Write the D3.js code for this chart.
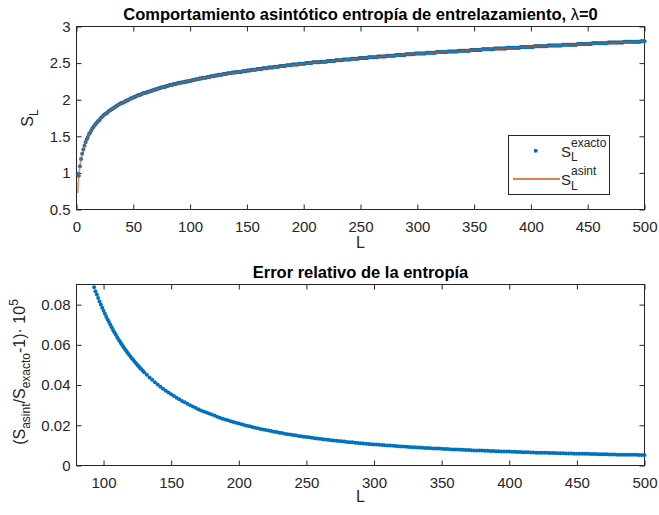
<!DOCTYPE html>
<html>
<head>
<meta charset="utf-8">
<script src="https://cdnjs.cloudflare.com/ajax/libs/d3/7.8.5/d3.min.js"></script>
<style>
body{margin:0;background:#fff;}
svg{display:block;font-family:"Liberation Sans",Arial,Helvetica,sans-serif;}
</style>
</head>
<body>
<svg width="659" height="515"></svg>
<script>
// S_L exacto, one value per L = 1..500
const sExacto = [
0.99, 0.96, 1.09, 1.19, 1.26, 1.32, 1.37, 1.42, 1.46, 1.49,
1.53, 1.55, 1.58, 1.61, 1.63, 1.65, 1.67, 1.69, 1.71, 1.72,
1.74, 1.76, 1.77, 1.79, 1.80, 1.81, 1.82, 1.84, 1.85, 1.86,
1.87, 1.88, 1.89, 1.90, 1.91, 1.92, 1.93, 1.94, 1.95, 1.96,
1.96, 1.97, 1.98, 1.99, 1.99, 2.00, 2.01, 2.02, 2.02, 2.03,
2.04, 2.04, 2.05, 2.06, 2.06, 2.07, 2.07, 2.08, 2.09, 2.09,
2.10, 2.10, 2.11, 2.11, 2.12, 2.12, 2.13, 2.13, 2.14, 2.14,
2.15, 2.15, 2.16, 2.16, 2.17, 2.17, 2.17, 2.18, 2.18, 2.19,
2.19, 2.20, 2.20, 2.20, 2.21, 2.21, 2.21, 2.22, 2.22, 2.23,
2.23, 2.23, 2.24, 2.24, 2.24, 2.25, 2.25, 2.25, 2.26, 2.26,
2.26, 2.27, 2.27, 2.27, 2.28, 2.28, 2.28, 2.29, 2.29, 2.29,
2.30, 2.30, 2.30, 2.30, 2.31, 2.31, 2.31, 2.32, 2.32, 2.32,
2.32, 2.33, 2.33, 2.33, 2.34, 2.34, 2.34, 2.34, 2.35, 2.35,
2.35, 2.35, 2.36, 2.36, 2.36, 2.36, 2.37, 2.37, 2.37, 2.37,
2.38, 2.38, 2.38, 2.38, 2.38, 2.39, 2.39, 2.39, 2.39, 2.40,
2.40, 2.40, 2.40, 2.41, 2.41, 2.41, 2.41, 2.41, 2.42, 2.42,
2.42, 2.42, 2.42, 2.43, 2.43, 2.43, 2.43, 2.43, 2.44, 2.44,
2.44, 2.44, 2.44, 2.45, 2.45, 2.45, 2.45, 2.45, 2.46, 2.46,
2.46, 2.46, 2.46, 2.46, 2.47, 2.47, 2.47, 2.47, 2.47, 2.48,
2.48, 2.48, 2.48, 2.48, 2.48, 2.49, 2.49, 2.49, 2.49, 2.49,
2.49, 2.50, 2.50, 2.50, 2.50, 2.50, 2.50, 2.51, 2.51, 2.51,
2.51, 2.51, 2.51, 2.51, 2.52, 2.52, 2.52, 2.52, 2.52, 2.52,
2.53, 2.53, 2.53, 2.53, 2.53, 2.53, 2.53, 2.54, 2.54, 2.54,
2.54, 2.54, 2.54, 2.54, 2.55, 2.55, 2.55, 2.55, 2.55, 2.55,
2.55, 2.56, 2.56, 2.56, 2.56, 2.56, 2.56, 2.56, 2.57, 2.57,
2.57, 2.57, 2.57, 2.57, 2.57, 2.57, 2.58, 2.58, 2.58, 2.58,
2.58, 2.58, 2.58, 2.58, 2.59, 2.59, 2.59, 2.59, 2.59, 2.59,
2.59, 2.59, 2.60, 2.60, 2.60, 2.60, 2.60, 2.60, 2.60, 2.60,
2.61, 2.61, 2.61, 2.61, 2.61, 2.61, 2.61, 2.61, 2.61, 2.62,
2.62, 2.62, 2.62, 2.62, 2.62, 2.62, 2.62, 2.63, 2.63, 2.63,
2.63, 2.63, 2.63, 2.63, 2.63, 2.63, 2.63, 2.64, 2.64, 2.64,
2.64, 2.64, 2.64, 2.64, 2.64, 2.64, 2.65, 2.65, 2.65, 2.65,
2.65, 2.65, 2.65, 2.65, 2.65, 2.65, 2.66, 2.66, 2.66, 2.66,
2.66, 2.66, 2.66, 2.66, 2.66, 2.67, 2.67, 2.67, 2.67, 2.67,
2.67, 2.67, 2.67, 2.67, 2.67, 2.67, 2.68, 2.68, 2.68, 2.68,
2.68, 2.68, 2.68, 2.68, 2.68, 2.68, 2.69, 2.69, 2.69, 2.69,
2.69, 2.69, 2.69, 2.69, 2.69, 2.69, 2.69, 2.70, 2.70, 2.70,
2.70, 2.70, 2.70, 2.70, 2.70, 2.70, 2.70, 2.70, 2.71, 2.71,
2.71, 2.71, 2.71, 2.71, 2.71, 2.71, 2.71, 2.71, 2.71, 2.71,
2.72, 2.72, 2.72, 2.72, 2.72, 2.72, 2.72, 2.72, 2.72, 2.72,
2.72, 2.72, 2.73, 2.73, 2.73, 2.73, 2.73, 2.73, 2.73, 2.73,
2.73, 2.73, 2.73, 2.73, 2.74, 2.74, 2.74, 2.74, 2.74, 2.74,
2.74, 2.74, 2.74, 2.74, 2.74, 2.74, 2.74, 2.75, 2.75, 2.75,
2.75, 2.75, 2.75, 2.75, 2.75, 2.75, 2.75, 2.75, 2.75, 2.75,
2.76, 2.76, 2.76, 2.76, 2.76, 2.76, 2.76, 2.76, 2.76, 2.76,
2.76, 2.76, 2.76, 2.77, 2.77, 2.77, 2.77, 2.77, 2.77, 2.77,
2.77, 2.77, 2.77, 2.77, 2.77, 2.77, 2.77, 2.78, 2.78, 2.78,
2.78, 2.78, 2.78, 2.78, 2.78, 2.78, 2.78, 2.78, 2.78, 2.78,
2.78, 2.79, 2.79, 2.79, 2.79, 2.79, 2.79, 2.79, 2.79, 2.79,
2.79, 2.79, 2.79, 2.79, 2.79, 2.79, 2.80, 2.80, 2.80, 2.80
];
const lTop = d3.range(1, 501);

// asymptotic curve, read at a few L
const asintL = [1, 2, 3, 4, 5, 6, 7, 8, 10, 12, 15, 20, 25, 30, 40, 50, 60, 80, 100, 125, 150, 200, 250, 300, 400, 500];
const sAsint = [0.726, 0.957, 1.092, 1.188, 1.262, 1.323, 1.375, 1.419, 1.494, 1.554, 1.629, 1.725, 1.799, 1.860, 1.956, 2.030, 2.091, 2.187, 2.261, 2.335, 2.396, 2.492, 2.566, 2.627, 2.723, 2.798];

// relative error (x1e5)
const errL = d3.range(93, 131).concat(d3.range(132, 501, 2));
const errVals = [
0.0886, 0.0867, 0.0850, 0.0833, 0.0816, 0.0800, 0.0784, 0.0769, 0.0754, 0.0740,
0.0726, 0.0713, 0.0700, 0.0687, 0.0674, 0.0662, 0.0651, 0.0639, 0.0628, 0.0618,
0.0607, 0.0597, 0.0587, 0.0577, 0.0568, 0.0558, 0.0550, 0.0541, 0.0532, 0.0524,
0.0516, 0.0508, 0.0500, 0.0493, 0.0485, 0.0478, 0.0471, 0.0464,
0.0451, 0.0438, 0.0426, 0.0414, 0.0403, 0.0392, 0.0382, 0.0372, 0.0363, 0.0354,
0.0345, 0.0337, 0.0329, 0.0321, 0.0314, 0.0307, 0.0300, 0.0293, 0.0287, 0.0280,
0.0274, 0.0269, 0.0263, 0.0258, 0.0253, 0.0248, 0.0243, 0.0238, 0.0233, 0.0229,
0.0225, 0.0220, 0.0216, 0.0213, 0.0209, 0.0205, 0.0202, 0.0198, 0.0195, 0.0191,
0.0188, 0.0185, 0.0182, 0.0179, 0.0176, 0.0174, 0.0171, 0.0168, 0.0166, 0.0163,
0.0161, 0.0158, 0.0156, 0.0154, 0.0152, 0.0150, 0.0147, 0.0145, 0.0143, 0.0142,
0.0140, 0.0138, 0.0136, 0.0134, 0.0133, 0.0131, 0.0129, 0.0128, 0.0126, 0.0124,
0.0123, 0.0122, 0.0120, 0.0119, 0.0117, 0.0116, 0.0115, 0.0113, 0.0112, 0.0111,
0.0110, 0.0108, 0.0107, 0.0106, 0.0105, 0.0104, 0.0103, 0.0102, 0.0101, 0.0100,
0.0099, 0.0098, 0.0097, 0.0096, 0.0095, 0.0094, 0.0093, 0.0092, 0.0091, 0.0091,
0.0090, 0.0089, 0.0088, 0.0087, 0.0087, 0.0086, 0.0085, 0.0084, 0.0084, 0.0083,
0.0082, 0.0082, 0.0081, 0.0080, 0.0080, 0.0079, 0.0078, 0.0078, 0.0077, 0.0077,
0.0076, 0.0075, 0.0075, 0.0074, 0.0074, 0.0073, 0.0073, 0.0072, 0.0072, 0.0071,
0.0071, 0.0070, 0.0070, 0.0069, 0.0069, 0.0068, 0.0068, 0.0067, 0.0067, 0.0066,
0.0066, 0.0066, 0.0065, 0.0065, 0.0064, 0.0064, 0.0064, 0.0063, 0.0063, 0.0062,
0.0062, 0.0062, 0.0061, 0.0061, 0.0061, 0.0060, 0.0060, 0.0060, 0.0059, 0.0059,
0.0059, 0.0058, 0.0058, 0.0058, 0.0057, 0.0057, 0.0057, 0.0056, 0.0056, 0.0056,
0.0056, 0.0055, 0.0055, 0.0055, 0.0054, 0.0054, 0.0054, 0.0054, 0.0053, 0.0053,
0.0053, 0.0053, 0.0052, 0.0052, 0.0052
];

// ticks
const topXTicks = [0, 50, 100, 150, 200, 250, 300, 350, 400, 450, 500];
const topYTicks = [0.5, 1, 1.5, 2, 2.5, 3];
const botXTicks = [100, 150, 200, 250, 300, 350, 400, 450, 500];
const botYTicks = [0, 0.02, 0.04, 0.06, 0.08];

const svg = d3.select("svg");
const axisCol = "#262626";
const blue = "#0072BD";
const orange = "#D95319";
const tickFont = 15;
const labelFont = 16;
const titleFont = 16.5;

const xTop = d3.scaleLinear().domain([0, 500]).range([76.5, 644.5]);
const yTop = d3.scaleLinear().domain([0.5, 3]).range([209.5, 26.5]);
const xBot = d3.scaleLinear().domain([80, 500]).range([76.5, 644.5]);
const yBot = d3.scaleLinear().domain([0, 0.09]).range([465.5, 284.5]);

// box + inward ticks on all four sides
function frame(x, y, xTicks, yTicks) {
    const g = svg.append("g");
    const [x0, x1] = x.range();
    const [y0, y1] = y.range();
    const clean = s => s.select(".domain").remove();

    g.append("g").attr("transform", "translate(0," + y0 + ")")
        .call(d3.axisBottom(x).tickValues(xTicks).tickSize(-5).tickPadding(12).tickFormat(d => d))
        .call(clean);
    g.append("g").attr("transform", "translate(0," + y1 + ")")
        .call(d3.axisTop(x).tickValues(xTicks).tickSize(-5).tickFormat(""))
        .call(clean);
    g.append("g").attr("transform", "translate(" + x0 + ",0)")
        .call(d3.axisLeft(y).tickValues(yTicks).tickSize(-5).tickPadding(6).tickFormat(d => d))
        .call(clean);
    g.append("g").attr("transform", "translate(" + x1 + ",0)")
        .call(d3.axisRight(y).tickValues(yTicks).tickSize(-5).tickFormat(""))
        .call(clean);

    g.selectAll(".tick line").attr("stroke", axisCol);
    g.selectAll(".tick text").attr("fill", axisCol)
        .style("font-size", tickFont + "px")
        .style("font-family", "'Liberation Sans', Arial, sans-serif");

    g.append("rect")
        .attr("x", x0).attr("y", y1)
        .attr("width", x1 - x0).attr("height", y0 - y1)
        .attr("fill", "none").attr("stroke", axisCol).attr("stroke-width", 1);
}

// text with sub/sup parts, shifted with dy
function rich(sel, parts, big, small) {
    let shift = 0;
    parts.forEach(function (p) {
        const target = p.s === "sub" ? 0.3 * big : p.s === "sup" ? -0.45 * big : 0;
        sel.append("tspan")
            .attr("dy", target - shift)
            .style("font-size", (p.s ? small : big) + "px")
            .text(p.t);
        shift = target;
    });
}

// ---------- top panel ----------
frame(xTop, yTop, topXTicks, topYTicks);

svg.append("g").selectAll("circle")
    .data(sExacto)
    .join("circle")
    .attr("cx", (d, i) => xTop(lTop[i]))
    .attr("cy", d => yTop(d))
    .attr("r", 2)
    .attr("fill", blue);

const asintLine = d3.line()
    .x((d, i) => xTop(asintL[i]))
    .y(d => yTop(d));

svg.append("path")
    .attr("d", asintLine(sAsint))
    .attr("fill", "none")
    .attr("stroke", orange)
    .attr("stroke-width", 1.6)
    .attr("stroke-opacity", 0.65);

const title1 = svg.append("text")
    .attr("x", 360.5).attr("y", 20)
    .attr("text-anchor", "middle")
    .style("font-size", titleFont + "px").style("font-weight", "bold").attr("fill", "#000");
title1.append("tspan").text("Comportamiento asintótico entropía de entrelazamiento, ");
title1.append("tspan").style("font-weight", "normal").text("λ");
title1.append("tspan").text("=0");

svg.append("text").attr("x", 360.5).attr("y", 248)
    .attr("text-anchor", "middle").style("font-size", labelFont + "px").attr("fill", axisCol).text("L");

const yl1 = svg.append("text")
    .attr("transform", "translate(33,118) rotate(-90)")
    .attr("text-anchor", "middle").attr("fill", axisCol);
rich(yl1, [{t: "S"}, {t: "L", s: "sub"}], labelFont, 12);

// legend
const leg = svg.append("g");
leg.append("rect").attr("x", 508.5).attr("y", 135.5).attr("width", 101).attr("height", 59)
    .attr("fill", "#fff").attr("stroke", axisCol).attr("stroke-width", 1);
leg.append("circle").attr("cx", 535.7).attr("cy", 150.7).attr("r", 2).attr("fill", blue);
leg.append("line").attr("x1", 513).attr("x2", 560).attr("y1", 179).attr("y2", 179)
    .attr("stroke", orange).attr("stroke-width", 1.3);

const legNames = ["exacto", "asint"];
const legBase = [156.5, 185];
legNames.forEach(function (name, i) {
    leg.append("text").attr("x", 561).attr("y", legBase[i])
        .style("font-size", "15px").attr("fill", axisCol).text("S");
    leg.append("text").attr("x", 571).attr("y", legBase[i] - 10)
        .style("font-size", "12px").attr("fill", axisCol).text(name);
    leg.append("text").attr("x", 571).attr("y", legBase[i] + 4.5)
        .style("font-size", "12px").attr("fill", axisCol).text("L");
});

// ---------- bottom panel ----------
frame(xBot, yBot, botXTicks, botYTicks);

svg.append("g").selectAll("circle")
    .data(errVals)
    .join("circle")
    .attr("cx", (d, i) => xBot(errL[i]))
    .attr("cy", d => yBot(d))
    .attr("r", 2)
    .attr("fill", blue);

svg.append("text").attr("x", 360.5).attr("y", 278)
    .attr("text-anchor", "middle")
    .style("font-size", titleFont + "px").style("font-weight", "bold").attr("fill", "#000")
    .text("Error relativo de la entropía");

svg.append("text").attr("x", 360.5).attr("y", 502)
    .attr("text-anchor", "middle").style("font-size", labelFont + "px").attr("fill", axisCol).text("L");

const yl2 = svg.append("text")
    .attr("transform", "translate(25,372) rotate(-90)")
    .attr("text-anchor", "middle").attr("fill", axisCol);
rich(yl2, [
    {t: "(S"}, {t: "asint", s: "sub"}, {t: "/S"}, {t: "exacto", s: "sub"},
    {t: "-1)· 10"}, {t: "5", s: "sup"}
], labelFont, 12);
</script>
</body>
</html>
